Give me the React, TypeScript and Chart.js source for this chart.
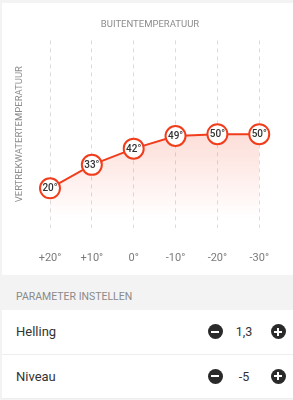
import React, { useEffect, useRef } from "react";
import { Chart, registerables } from "chart.js";

Chart.register(...registerables);

const categories = ["+20°", "+10°", "0°", "-10°", "-20°", "-30°"];
const supplyTemps = [20, 33, 42, 49, 50, 50];
const xTitle = "BUITENTEMPERATUUR";
const yTitle = "VERTREKWATERTEMPERATUUR";
const params = [
  { label: "Helling", value: "1,3" },
  { label: "Niveau", value: "-5" },
];

const RED = "#f23d1d";
const FONT = "Roboto";

const pointLabels = {
  id: "pointLabels",
  afterDatasetsDraw(chart: any) {
    const ctx = chart.ctx;
    const meta = chart.getDatasetMeta(0);
    const data = chart.data.datasets[0].data as number[];
    ctx.save();
    ctx.font = `500 10px ${FONT}`;
    ctx.fillStyle = "#333";
    ctx.textAlign = "center";
    ctx.textBaseline = "middle";
    meta.data.forEach((pt: any, i: number) => {
      ctx.fillText(`${data[i]}°`, pt.x, pt.y + 0.5);
    });
    ctx.restore();
  },
};

function ChartCard() {
  const ref = useRef<HTMLCanvasElement>(null);
  useEffect(() => {
    if (!ref.current) return;
    const chart = new Chart(ref.current, {
      type: "line",
      data: {
        labels: categories,
        datasets: [
          {
            data: supplyTemps,
            borderColor: RED,
            borderWidth: 2,
            tension: 0,
            pointRadius: 10,
            pointHoverRadius: 10,
            pointBorderWidth: 2,
            pointBackgroundColor: "#fff",
            pointBorderColor: RED,
            fill: "start",
            backgroundColor: (c: any) => {
              const area = c.chart.chartArea;
              if (!area) return "rgba(242,61,29,0.1)";
              const g = c.chart.ctx.createLinearGradient(0, area.top + 95, 0, area.bottom - 10);
              g.addColorStop(0, "rgba(242,61,29,0.17)");
              g.addColorStop(1, "rgba(242,61,29,0)");
              return g;
            },
          },
        ],
      },
      options: {
        animation: false,
        responsive: false,
        maintainAspectRatio: false,
        layout: { padding: { left: 5, right: 0, top: 0, bottom: 8 } },
        plugins: {
          legend: { display: false },
          tooltip: { enabled: false },
          title: {
            display: true,
            text: xTitle,
            color: "#8c8c8c",
            font: { family: FONT, size: 9.5, weight: "normal" },
            padding: { top: 16, bottom: 10 },
          },
        },
        scales: {
          x: {
            offset: false,
            grid: { display: true, color: "#dcdcdc", drawTicks: false, offset: false },
            border: { display: false, dash: [4, 4] },
            ticks: {
              color: "#7a7a7a",
              font: { family: FONT, size: 11 },
              padding: 24,
              maxRotation: 0,
            },
            afterFit: (scale: any) => {
              scale.height = 39;
            },
          },
          y: {
            min: -2,
            max: 102,
            grid: { display: false, drawTicks: false },
            border: { display: false },
            ticks: { display: false },
            title: {
              display: true,
              text: yTitle,
              color: "#8c8c8c",
              font: { family: FONT, size: 9.5, weight: "normal" },
              padding: { top: 7, bottom: 24.6 },
            },
          },
          yRight: {
            position: "right",
            display: true,
            grid: { display: false, drawTicks: false },
            border: { display: false },
            ticks: { display: false },
            afterFit: (scale: any) => {
              scale.width = 30;
            },
          },
        },
      },
      plugins: [pointLabels],
    } as any);
    return () => chart.destroy();
  }, []);
  return <canvas ref={ref} width={291} height={272} style={{ display: "block" }} />;
}

function RoundBtn({ kind }: { kind: "minus" | "plus" }) {
  return (
    <div
      style={{
        position: "absolute",
        left: kind === "minus" ? 205.5 : 268.5,
        top: "50%",
        marginTop: -7.5,
        width: 15,
        height: 15,
        borderRadius: "50%",
        background: "#2a2a2a",
      }}
    >
      <div style={{ position: "absolute", left: 3.5, top: 6.5, width: 8, height: 2, background: "#fff" }} />
      {kind === "plus" && (
        <div style={{ position: "absolute", left: 6.5, top: 3.5, width: 2, height: 8, background: "#fff" }} />
      )}
    </div>
  );
}

export default function App() {
  return (
    <div
      style={{
        position: "absolute",
        left: 0,
        top: 0,
        width: 293,
        height: 400,
        background: "#f3f3f3",
        fontFamily: FONT,
        overflow: "hidden",
      }}
    >
      <div style={{ position: "absolute", left: 2, top: 3, width: 291, height: 272, background: "#fff" }}>
        <ChartCard />
      </div>
      <div
        style={{
          position: "absolute",
          left: 16,
          top: 289,
          fontSize: 10.5,
          color: "#8a8a8a",
          lineHeight: "16px",
        }}
      >
        PARAMETER INSTELLEN
      </div>
      {params.map((p, i) => (
        <div
          key={p.label}
          style={{
            position: "absolute",
            left: 2,
            top: 310 + i * 44.5,
            width: 291,
            height: 43.5,
            background: "#fff",
            borderBottom: "1px solid #eeeeee",
          }}
        >
          <div
            style={{
              position: "absolute",
              left: 14,
              top: 0,
              height: "100%",
              display: "flex",
              alignItems: "center",
              fontSize: 13,
              color: "#333",
            }}
          >
            {p.label}
          </div>
          <RoundBtn kind="minus" />
          <div
            style={{
              position: "absolute",
              left: 222,
              width: 40,
              top: 0,
              height: "100%",
              display: "flex",
              alignItems: "center",
              justifyContent: "center",
              fontSize: 12.5,
              color: "#333",
            }}
          >
            {p.value}
          </div>
          <RoundBtn kind="plus" />
        </div>
      ))}
    </div>
  );
}
